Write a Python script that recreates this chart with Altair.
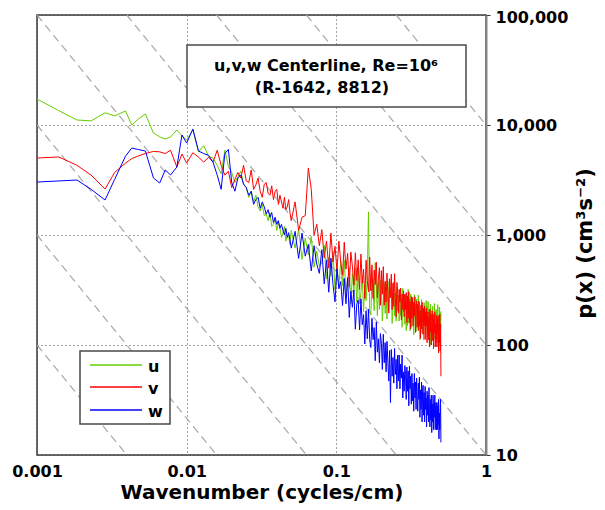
import altair as alt
import pandas as pd

# ---------------- data ----------------
x_low = [0.001, 0.0014, 0.00185, 0.0023, 0.00285, 0.0033, 0.0039, 0.0043,
         0.0047, 0.0053, 0.006, 0.0066, 0.0072, 0.0078, 0.0086, 0.0093]
x_mid = [0.010, 0.011, 0.012, 0.013, 0.014, 0.015, 0.016, 0.017, 0.018, 0.019,
         0.020, 0.021, 0.022, 0.023, 0.024, 0.025, 0.026, 0.027, 0.028, 0.029,
         0.030, 0.031, 0.032, 0.033, 0.034, 0.035, 0.036, 0.037, 0.038, 0.039,
         0.040, 0.041, 0.042, 0.043, 0.044, 0.045, 0.046, 0.047, 0.048, 0.049]
x_high = [0.050, 0.053, 0.056, 0.059, 0.062, 0.065, 0.068, 0.071, 0.074, 0.077,
          0.080, 0.083, 0.086, 0.089, 0.092, 0.095, 0.098, 0.101, 0.104, 0.107,
          0.110, 0.113, 0.116, 0.119, 0.122, 0.125, 0.128, 0.131, 0.134, 0.137,
          0.140, 0.143, 0.146, 0.149, 0.152, 0.155, 0.158, 0.161, 0.164, 0.167,
          0.170, 0.173, 0.176, 0.179, 0.182, 0.185, 0.188, 0.191, 0.194, 0.197,
          0.200, 0.203, 0.206, 0.209, 0.212, 0.215, 0.218, 0.221, 0.224, 0.227,
          0.230, 0.233, 0.236, 0.239, 0.242, 0.245, 0.248, 0.251, 0.254, 0.257,
          0.260, 0.263, 0.266, 0.269, 0.272, 0.275, 0.278, 0.281, 0.284, 0.287,
          0.290, 0.293, 0.296, 0.299, 0.302, 0.305, 0.308, 0.311, 0.314, 0.317,
          0.320, 0.323, 0.326, 0.329, 0.332, 0.335, 0.338, 0.341, 0.344, 0.347,
          0.350, 0.353, 0.356, 0.359, 0.362, 0.365, 0.368, 0.371, 0.374, 0.377,
          0.380, 0.383, 0.386, 0.389, 0.392, 0.395, 0.398, 0.401, 0.404, 0.407,
          0.410, 0.413, 0.416, 0.419, 0.422, 0.425, 0.428, 0.431, 0.434, 0.437,
          0.440, 0.443, 0.446, 0.449, 0.452, 0.455, 0.458, 0.461, 0.464, 0.467,
          0.470, 0.473, 0.476, 0.479, 0.482, 0.485, 0.488, 0.491, 0.494, 0.497,
          0.500]

u_low = [17200, 13500, 11100, 10900, 12900, 12100, 13400, 10000,
         11200, 12600, 8450, 7800, 7460, 7780, 9010, 8000]
u_mid = [7300, 9000, 5700, 6500, 5200, 5000, 4300, 3600, 5900, 4200,
         3700, 3000, 3400, 3800, 2900, 2700, 2200, 2500, 2000, 2300,
         1800, 1650, 1900, 1500, 1550, 1350, 1600, 1200, 1250, 1400,
         1100, 1300, 1150, 950, 1050, 1200, 880, 980, 1000, 820]
u_high = [1100, 760, 1125, 600, 940, 660, 970, 510, 715, 520,
          558, 803, 399, 630, 422, 711, 319, 520, 344, 577,
          346, 588, 287, 400, 507, 236, 448, 310, 501, 246,
          500, 237, 300, 428, 201, 352, 253, 437, 1620, 207,
          187, 404, 311, 205, 560, 344, 185, 368, 211, 391,
          346, 165, 246, 366, 194, 294, 172, 381, 209, 337,
          270, 332, 157, 226, 374, 185, 294, 165, 337, 203,
          284, 165, 315, 185, 263, 145, 326, 201, 287, 154,
          285, 135, 238, 150, 320, 158, 263, 135, 290, 180,
          147, 263, 211, 124, 287, 177, 235, 133, 261, 154,
          172, 285, 144, 244, 112, 205, 152, 258, 128, 228,
          199, 112, 242, 160, 212, 116, 254, 149, 226, 125,
          249, 180, 111, 213, 144, 235, 101, 192, 117, 216,
          224, 132, 182, 112, 238, 147, 196, 100, 211, 121,
          193, 106, 232, 127, 183, 98, 221, 149, 196, 109, 203]

v_low = [5010, 5120, 4300, 3500, 2620, 3700, 4500, 4950,
         5200, 5500, 5750, 5700, 5500, 5900, 4150, 5450]
v_mid = [4500, 5600, 5100, 4600, 5100, 4600, 5900, 4300, 3500, 3800,
         2700, 3200, 3700, 3300, 4300, 3100, 3000, 3900, 2600, 2850,
         3300, 2500, 2200, 2900, 3000, 2400, 2300, 2800, 2100, 2500,
         2600, 1900, 2300, 2000, 1750, 2200, 1700, 1800, 2100, 1600]
v_high = [1350, 2000, 1100, 1450, 1500, 4070, 2600, 1000, 1250, 800,
          1120, 620, 880, 500, 1040, 570, 790, 470, 880, 570,
          430, 860, 490, 680, 340, 700, 520, 350, 690, 385,
          595, 320, 670, 365, 490, 265, 590, 385, 305, 630,
          310, 535, 265, 480, 355, 565, 270, 400, 505, 230,
          475, 290, 515, 230, 380, 245, 450, 300, 195, 400,
          270, 440, 210, 365, 225, 445, 265, 180, 370, 295,
          195, 320, 245, 330, 170, 290, 210, 310, 180, 290,
          210, 300, 160, 280, 175, 305, 160, 250, 140, 275,
          175, 270, 150, 245, 185, 275, 130, 210, 250, 145,
          235, 135, 250, 150, 205, 115, 230, 140, 245, 160,
          125, 215, 150, 225, 112, 200, 148, 215, 105, 180,
          200, 112, 180, 96, 210, 132, 190, 100, 158, 205,
          110, 190, 92, 170, 128, 200, 96, 155, 112, 185,
          96, 172, 128, 185, 85, 152, 105, 190, 88, 155, 52]

w_low = [3030, 3100, 3160, 2600, 2080, 3200, 5200, 6180,
         6000, 5800, 3300, 2970, 3900, 3510, 4150, 8110]
w_mid = [6850, 9200, 5800, 5500, 5300, 4600, 3500, 2600, 5500, 6000,
         3000, 2500, 3300, 3500, 2900, 2700, 2300, 2500, 1900, 2100,
         2200, 1750, 2000, 1800, 1550, 1700, 1450, 1600, 1300, 1450,
         1250, 1350, 1150, 1250, 1100, 1000, 1150, 950, 1050, 900]
w_high = [760, 1080, 612, 1040, 642, 822, 472, 800, 545, 448,
          736, 360, 588, 302, 616, 355, 247, 491, 324, 377,
          228, 403, 237, 409, 178, 308, 220, 316, 139, 235,
          256, 137, 263, 153, 189, 102, 205, 114, 212, 112,
          95, 175, 112, 144, 72, 162, 86, 114, 69, 127,
          104, 60, 125, 69, 105, 57, 108, 70, 47, 89,
          30, 91, 52, 77, 45, 93, 54, 74, 40, 81,
          47, 81, 40, 67, 50, 81, 33, 57, 38, 65,
          54, 32, 63, 38, 58, 28, 64, 40, 52, 29,
          55, 31, 45, 25, 55, 33, 46, 26, 50, 33,
          25, 45, 32, 51, 22, 39, 26, 46, 20, 38,
          43, 23, 37, 20, 42, 26, 33, 18, 38, 23,
          35, 20, 41, 24, 18, 32, 21, 35, 16, 29,
          20, 35, 17, 30, 22, 35, 17, 28, 30, 17,
          30, 17, 28, 19, 32, 14, 24, 17, 28, 32, 13]

components = ["u", "v", "w"]
colors = ["#66CC00", "#FF0000", "#0000FF"]
x_ticks = [0.001, 0.01, 0.1, 1]
y_ticks = [10, 100, 1000, 10000, 100000]
guide_intercepts = [-3, -2, -1, 0, 1, 2, 3, 4]   # log10 p + 5/3 log10 k = c
title_line1 = "u,v,w Centerline, Re=10\u2076"
title_line2 = "(R-1642, 8812)"
x_title = "Wavenumber (cycles/cm)"
y_title = "p(x) (cm\u00b3s\u207b\u00b2)"

# ---------------- tables ----------------
wavenumber = x_low + x_mid + x_high
series = {"u": u_low + u_mid + u_high,
          "v": v_low + v_mid + v_high,
          "w": w_low + w_mid + w_high}
rows = []
for name in components:
    for k, p in zip(wavenumber, series[name]):
        rows.append({"k": k, "p": p, "comp": name})
df = pd.DataFrame(rows)

# -5/3 reference lines clipped to the log domain box [-3,0] x [1,5]
g_rows = []
for c in guide_intercepts:
    if c <= 0:
        x0, y0 = -3.0, c + 5.0
    else:
        x0, y0 = (c - 5) * 0.6, 5.0
    if c >= 1:
        x1, y1 = 0.0, float(c)
    else:
        x1, y1 = (c - 1) * 0.6, 1.0
    g_rows.append({"k": 10 ** x0, "p": 10 ** y0, "c": c, "o": 0})
    g_rows.append({"k": 10 ** x1, "p": 10 ** y1, "c": c, "o": 1})
gdf = pd.DataFrame(g_rows)

FONT = "DejaVu Sans"
xs = alt.Scale(type="log", domain=[0.001, 1], nice=False)
ys = alt.Scale(type="log", domain=[10, 100000], nice=False)
cs = alt.Scale(domain=components, range=colors)

x_axis = alt.Axis(values=x_ticks, format="~g", grid=True, gridDash=[1, 3],
                  gridColor="#444", gridWidth=1, domain=False, ticks=False,
                  labelFont=FONT, labelFontWeight="bold", labelFontSize=16,
                  labelColor="black", labelPadding=8, labelFlush=False,
                  labelOverlap=False, title=x_title, titleFont=FONT,
                  titleFontWeight="bold", titleFontSize=20, titleColor="black",
                  titlePadding=3)
y_axis = alt.Axis(orient="right", values=y_ticks, format=",", grid=True,
                  gridDash=[1, 3], gridColor="#444", gridWidth=1,
                  domain=True, domainColor="#888", domainWidth=2,
                  ticks=True, tickSize=4, tickColor="#333",
                  labelFont=FONT, labelFontWeight="bold", labelFontSize=16,
                  labelColor="black", labelPadding=5, labelFlush=False,
                  labelOffset={"condition": {"test": "datum.value >= 100000", "value": 2},
                               "value": 0},
                  labelOverlap=False, title=y_title, titleFont=FONT,
                  titleFontWeight="bold", titleFontSize=21, titleColor="black",
                  titleAngle=270, titleAlign="center", titleBaseline="middle",
                  titleX=99, titleY=228)

guides = alt.Chart(gdf).mark_line(color="#A8A8A8", strokeWidth=1.2,
                                  strokeDash=[8, 5]).encode(
    x=alt.X("k:Q", scale=xs, axis=x_axis),
    y=alt.Y("p:Q", scale=ys, axis=y_axis),
    detail="c:N", order="o:Q")


def comp_layer(name):
    return alt.Chart(df).transform_filter(alt.datum.comp == name).mark_line(
        strokeWidth=1, clip=True).encode(
        x=alt.X("k:Q", scale=xs, axis=x_axis),
        y=alt.Y("p:Q", scale=ys, axis=y_axis),
        color=alt.Color("comp:N", scale=cs, legend=None))


one = pd.DataFrame({"a": [0]})
box = alt.Chart(one).mark_rect(fill="white", stroke="#4a4a4a", strokeWidth=1.5).encode(
    x=alt.value(150), x2=alt.value(429), y=alt.value(30), y2=alt.value(92))
t1 = alt.Chart(one).mark_text(font=FONT, fontWeight="bold", fontSize=16,
                              align="center", baseline="alphabetic", color="black").encode(
    x=alt.value(289), y=alt.value(56), text=alt.value(title_line1))
t2 = alt.Chart(one).mark_text(font=FONT, fontWeight="bold", fontSize=16,
                              align="center", baseline="alphabetic", color="black").encode(
    x=alt.value(285), y=alt.value(78), text=alt.value(title_line2))

lbox = alt.Chart(one).mark_rect(fill="white", stroke="#4a4a4a", strokeWidth=1.5).encode(
    x=alt.value(43), x2=alt.value(133), y=alt.value(336), y2=alt.value(409))
legend_layers = []
for name, col, yy in zip(components, colors, [350, 372, 395]):
    legend_layers.append(alt.Chart(one).mark_rule(color=col, strokeWidth=1.5).encode(
        x=alt.value(53), x2=alt.value(105), y=alt.value(yy)))
    legend_layers.append(alt.Chart(one).mark_text(
        font=FONT, fontWeight="bold", fontSize=16, align="left",
        baseline="alphabetic", color="black").encode(
        x=alt.value(111), y=alt.value(yy + 7), text=alt.value(name)))

chart = alt.layer(
    guides,
    comp_layer("u"),
    comp_layer("v"),
    comp_layer("w"),
    box, t1, t2, lbox, *legend_layers
).properties(
    width=449, height=440,
    padding={"left": 29, "top": 7, "right": 111, "bottom": 52},
    autosize=alt.AutoSizeParams(type="none"),
    background="white",
).configure_view(stroke="#3a3a3a", strokeWidth=1.5)

chart.save("out.html", embed_options={"renderer": "svg", "actions": False})
